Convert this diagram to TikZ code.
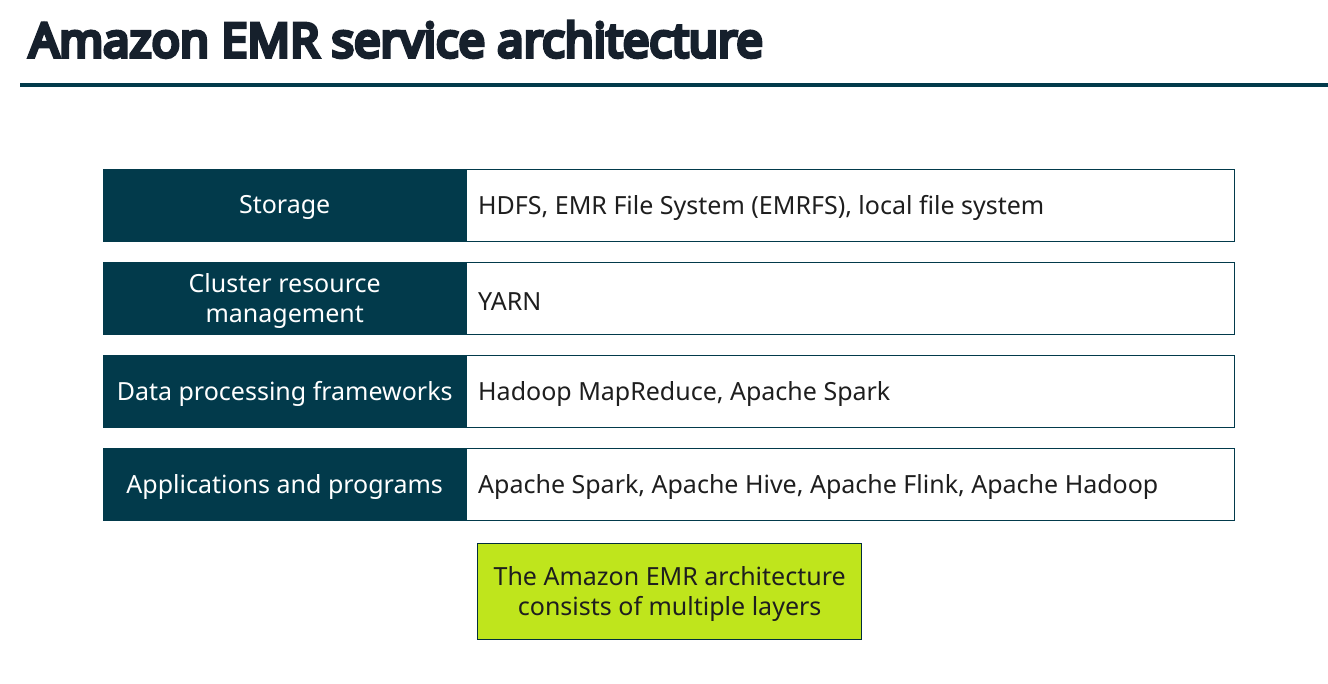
\documentclass[tikz,border=0pt]{standalone}
\usepackage{fontspec}
\setmainfont{Noto Sans}
\newfontfamily\titlefont{Noto Sans}[FakeBold=8]
\definecolor{teal}{HTML}{023A4B}
\definecolor{txt}{HTML}{1E1E1E}
\definecolor{titlec}{HTML}{16202C}
\definecolor{lime}{HTML}{BFE51C}
\begin{document}
\begin{tikzpicture}[x=1pt,y=-1pt,
  lbl/.style={fill=teal,draw=teal,minimum width=363pt,minimum height=72pt,inner sep=0pt,anchor=north west},
  lbltext/.style={text=white,inner sep=0pt,align=center,font=\fontsize{25}{30}\selectfont},
  val/.style={fill=white,draw=teal,line width=1.3pt,minimum width=768pt,minimum height=72pt,inner sep=0pt,anchor=north west},
  valtext/.style={text=txt,inner sep=0pt,anchor=west,font=\fontsize{25}{30}\selectfont},
  note/.style={fill=lime,draw=teal!80!black,line width=1.3pt,minimum width=384pt,minimum height=96pt,inner sep=0pt,anchor=north west},
  notetext/.style={text=txt,inner sep=0pt,align=center,font=\fontsize{25}{30}\selectfont}]
\useasboundingbox (0,0) rectangle (1328,683);
\node[anchor=base west,inner sep=0pt,text=titlec,font=\fontsize{47}{52}\selectfont\titlefont] (title) at (29,57) {Amazon EMR service architecture};
\coordinate (ls) at (20,84.5);
\coordinate (le) at (1328,84.5);
\draw[teal,line width=4pt] (ls) -- (le);
\foreach \i/\y/\a/\b in {1/169/Storage/{HDFS, EMR File System (EMRFS), local file system},
                         2/262/{Cluster resource\\management}/YARN,
                         3/355/Data processing frameworks/{Hadoop MapReduce, Apache Spark},
                         4/448/Applications and programs/{Apache Spark, Apache Hive, Apache Flink, Apache Hadoop}}{
  \node[val] (v\i) at (466,\y) {};
  \node[lbl] (l\i) at (103,\y) {};
  \node[lbltext] (lt\i) at ([yshift=-2.5pt]l\i.center) {\a};
  \node[valtext] (vt\i) at ([xshift=12pt,yshift=-2.5pt]v\i.west) {\b};
}
\node[note] (n) at (477,543) {};
\node[notetext] (nt) at ([yshift=-2pt]n.center) {The Amazon EMR architecture\\consists of multiple layers};
\end{tikzpicture}
\end{document}
